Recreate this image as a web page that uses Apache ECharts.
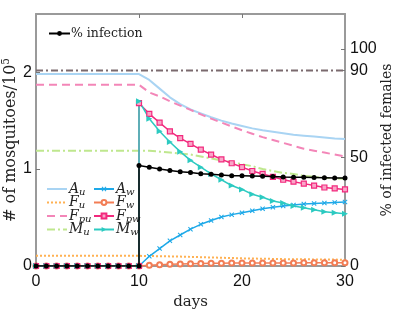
<!DOCTYPE html>
<html><head><meta charset="utf-8">
<script src="https://cdn.jsdelivr.net/npm/echarts@6/dist/echarts.min.js"></script>
<style>html,body{margin:0;padding:0;background:#fff}#c{width:399px;height:310px}</style>
</head><body><div id="c"></div>
<script>
// ---- data ----
const days = [0,1,2,3,4,5,6,7,8,9,10,11,12,13,14,15,16,17,18,19,20,21,22,23,24,25,26,27,28,29,30];
const preDays = [0,1,2,3,4,5,6,7,8,9,10];
const postDays = [10,11,12,13,14,15,16,17,18,19,20,21,22,23,24,25,26,27,28,29,30];

const Au  = [1.98,1.98,1.98,1.98,1.98,1.98,1.98,1.98,1.98,1.98,1.98,1.92,1.83,1.74,1.67,1.615,1.575,1.535,1.50,1.47,1.445,1.42,1.40,1.385,1.37,1.355,1.345,1.335,1.325,1.315,1.31];
const Fu  = [0.105,0.105,0.105,0.105,0.105,0.105,0.105,0.105,0.105,0.105,0.105,0.103,0.101,0.099,0.097,0.094,0.091,0.088,0.085,0.082,0.079,0.077,0.075,0.073,0.071,0.070,0.069,0.068,0.067,0.066,0.065];
const Fpu = [1.87,1.87,1.87,1.87,1.87,1.87,1.87,1.87,1.87,1.87,1.87,1.79,1.75,1.70,1.655,1.61,1.565,1.52,1.48,1.44,1.40,1.365,1.33,1.30,1.27,1.24,1.21,1.19,1.17,1.15,1.13];
const Mu  = [1.19,1.19,1.19,1.19,1.19,1.19,1.19,1.19,1.19,1.19,1.19,1.19,1.18,1.17,1.16,1.15,1.13,1.11,1.09,1.07,1.05,1.03,1.00,0.98,0.96,0.95,0.93,0.92,0.91,0.905,0.90];
const Aw  = [0,0,0,0,0,0,0,0,0,0,0,0.10,0.18,0.26,0.32,0.38,0.43,0.47,0.505,0.53,0.55,0.57,0.59,0.605,0.62,0.63,0.64,0.645,0.65,0.655,0.66];
const Fw  = [0,0,0,0,0,0,0,0,0,0,0,0.008,0.014,0.018,0.021,0.024,0.026,0.028,0.029,0.030,0.030,0.031,0.031,0.032,0.032,0.032,0.033,0.033,0.033,0.033,0.033];
const FpwPre = [0,0,0,0,0,0,0,0,0,0,0];
const FpwPost = [1.68,1.57,1.48,1.39,1.32,1.26,1.20,1.15,1.10,1.06,1.02,0.98,0.95,0.92,0.89,0.87,0.85,0.83,0.81,0.80,0.79];
const MwPre = [0,0,0,0,0,0,0,0,0,0,0];
const MwPost = [1.70,1.52,1.39,1.28,1.18,1.09,1.02,0.95,0.89,0.83,0.79,0.74,0.71,0.67,0.65,0.62,0.60,0.58,0.56,0.55,0.54];
const infPre = [0,0,0,0,0,0,0,0,0,0,0];
const infPost = [46.3,45.5,44.6,44.0,43.4,43.0,42.5,42.2,41.9,41.6,41.5,41.4,41.3,41.2,41.0,40.9,40.8,40.7,40.6,40.5,40.5];
const threshold = [90, 90];
const thresholdDays = [0, 30];
const leftTicks = [0, 1, 2];
const rightTicks = [0, 50, 90, 100];
const xTicks = [0, 10, 20, 30];

// ---- helpers ----
const pairs = (xs, ys) => xs.map((x, i) => [x, ys[i]]);
const jump = (xa, ya, xb, yb) => pairs(xa, ya).concat(pairs(xb, yb));
const labels = {
  Au: '{i|A}{s|u}', Fu: '{i|F}{s|u}', Fpu: '{i|F}{s|pu}', Mu: '{i|M}{s|u}',
  Aw: '{i|A}{s|w}', Fw: '{i|F}{s|w}', Fpw: '{i|F}{s|pw}', Mw: '{i|M}{s|w}',
  inf: '% infection'
};
const serif = 'DejaVu Serif';
const sans = 'Liberation Sans';
const richLegend = {
  i: {fontFamily: serif, fontStyle: 'italic', fontSize: 14, lineHeight: 12, color: '#222'},
  s: {fontFamily: serif, fontStyle: 'italic', fontSize: 10, lineHeight: 8, color: '#222', padding: [6, 0, 0, 0]}
};
const X_PATH = 'path://M0,1.5L1.5,0L5,3.5L8.5,0L10,1.5L6.5,5L10,8.5L8.5,10L5,6.5L1.5,10L0,8.5L3.5,5Z';

const C = {
  Au: '#a9d4f3', Fu: '#ffb152', Fpu: '#f386b8', Mu: '#bfe78e',
  Aw: '#1ea9e8', Fw: '#f27d55', Fpw: '#f2297d', Mw: '#2ccac1', thr: '#7b6a6e'
};

const chart = echarts.init(document.getElementById('c'), null, {renderer: 'canvas'});
const axisLineStyle = {color: '#9a9a9a', width: 2};
const tickStyle = {color: '#777', width: 1};
chart.setOption({
  animation: false,
  backgroundColor: '#fff',
  grid: {left: 36, right: 54, top: 14, bottom: 44, containLabel: false, outerBoundsMode: 'none'},
  xAxis: [{
    type: 'value', min: 0, max: 30, interval: 10, position: 'bottom',
    name: 'days', nameLocation: 'middle', nameGap: 29, nameMoveOverlap: false,
    nameTextStyle: {fontFamily: serif, fontSize: 15, color: '#222'},
    axisLine: {onZero: false, lineStyle: axisLineStyle},
    axisTick: {inside: true, length: 4, lineStyle: tickStyle, customValues: xTicks},
    axisLabel: {fontFamily: sans, fontSize: 16, color: '#111', margin: 8, customValues: xTicks},
    splitLine: {show: false}
  }, {
    type: 'value', min: 0, max: 30, interval: 10, position: 'top',
    axisLine: {onZero: false, lineStyle: axisLineStyle},
    axisTick: {inside: true, length: 4, lineStyle: tickStyle, customValues: [10, 20]},
    axisLabel: {show: false},
    splitLine: {show: false}
  }],
  yAxis: [{
    type: 'value', min: 0, max: 2.6, position: 'left',
    name: '# of mosquitoes/10{sup|5}', nameLocation: 'middle', nameGap: 16, nameRotate: 90, nameMoveOverlap: false,
    nameTextStyle: {fontFamily: serif, fontSize: 16, color: '#222',
      rich: {sup: {fontFamily: serif, fontSize: 10.5, color: '#222', padding: [0, 0, 8, 0]}}},
    axisLine: {onZero: false, lineStyle: axisLineStyle},
    axisTick: {inside: true, length: 4, lineStyle: tickStyle, customValues: leftTicks},
    axisLabel: {fontFamily: sans, fontSize: 16, color: '#111', margin: 4, customValues: leftTicks},
    splitLine: {show: false}
  }, {
    type: 'value', min: 0, max: 116, position: 'right',
    name: '% of infected females', nameLocation: 'middle', nameGap: 35, nameRotate: 90, nameMoveOverlap: false,
    nameTextStyle: {fontFamily: serif, fontSize: 14, color: '#222'},
    axisLine: {onZero: false, lineStyle: axisLineStyle},
    axisTick: {inside: true, length: 4, lineStyle: tickStyle, customValues: rightTicks},
    axisLabel: {fontFamily: sans, fontSize: 16, color: '#111', margin: 5, customValues: rightTicks},
    splitLine: {show: false}
  }],
  legend: [{
    data: ['inf'], left: 43, top: 22, itemWidth: 21, itemHeight: 6, itemGap: 4,
    formatter: n => labels[n],
    textStyle: {fontFamily: serif, fontSize: 12.5, color: '#222', padding: [0, 0, 0, -4]}
  }, {
    data: ['Au', 'Fu', 'Fpu', 'Mu'], orient: 'vertical', left: 41, top: 176,
    itemWidth: 20, itemHeight: 6, itemGap: -2.5, itemStyle: {opacity: 0},
    formatter: n => labels[n], textStyle: {rich: richLegend, padding: [0, 0, 0, -3]}
  }, {
    data: ['Aw', 'Fw', 'Fpw', 'Mw'], orient: 'vertical', left: 88, top: 176,
    itemWidth: 20, itemHeight: 6, itemGap: -2.5,
    formatter: n => labels[n], textStyle: {rich: richLegend, padding: [0, 0, 0, -3]}
  }],
  series: [
    {name: 'thr', type: 'line', yAxisIndex: 1, data: pairs(thresholdDays, threshold), symbol: 'none',
      lineStyle: {color: C.thr, width: 2, type: [7, 3, 2, 3]}, z: 1},
    {name: 'Au', type: 'line', data: pairs(days, Au), symbol: 'none', color: C.Au,
      lineStyle: {color: C.Au, width: 2}},
    {name: 'Fu', type: 'line', data: pairs(days, Fu), symbol: 'none', color: C.Fu,
      lineStyle: {color: C.Fu, width: 2, type: [2, 2]}},
    {name: 'Fpu', type: 'line', data: pairs(days, Fpu), symbol: 'none', color: C.Fpu,
      lineStyle: {color: C.Fpu, width: 2, type: [8, 5]}},
    {name: 'Mu', type: 'line', data: pairs(days, Mu), symbol: 'none', color: C.Mu,
      lineStyle: {color: C.Mu, width: 2, type: [8, 3, 2, 3]}},
    {name: 'Aw', type: 'line', data: pairs(days, Aw), symbol: X_PATH, symbolSize: 5, color: C.Aw,
      itemStyle: {color: C.Aw}, lineStyle: {color: C.Aw, width: 1.5}},
    {name: 'Fw', type: 'line', data: pairs(days, Fw), symbol: 'emptyCircle', symbolSize: 5, color: C.Fw,
      itemStyle: {color: C.Fw, borderColor: C.Fw, borderWidth: 1.3}, lineStyle: {color: C.Fw, width: 1.5}},
    {name: 'Fpw', type: 'line', data: jump(preDays, FpwPre, postDays, FpwPost), symbol: 'rect', symbolSize: 5, color: C.Fpw,
      itemStyle: {color: '#f9a6c8', borderColor: C.Fpw, borderWidth: 1.2}, lineStyle: {color: C.Fpw, width: 1.5}},
    {name: 'Mw', type: 'line', data: jump(preDays, MwPre, postDays, MwPost), symbol: 'triangle', symbolRotate: -90, symbolSize: 6, color: C.Mw,
      itemStyle: {color: C.Mw}, lineStyle: {color: C.Mw, width: 1.5}},
    {name: 'inf', type: 'line', yAxisIndex: 1, data: jump(preDays, infPre, postDays, infPost), symbol: 'circle', symbolSize: 5, color: '#000',
      itemStyle: {color: '#000'}, lineStyle: {color: '#000', width: 1.5}, z: 5}
  ]
});
</script></body></html>
